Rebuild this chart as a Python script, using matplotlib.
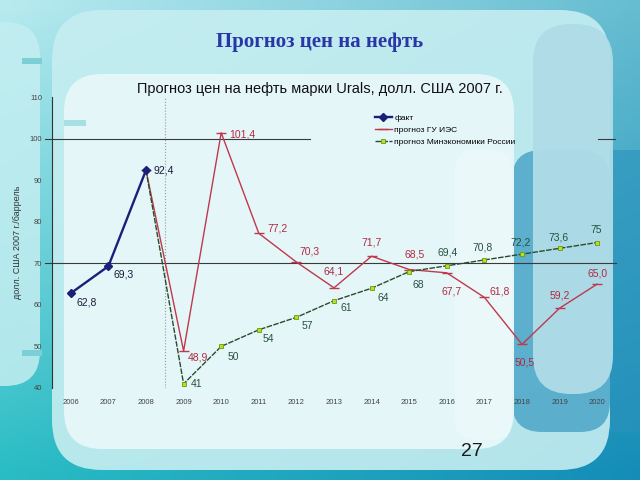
import numpy as np
import matplotlib
matplotlib.use("Agg")
import matplotlib.pyplot as plt
from matplotlib.patches import FancyBboxPatch, Rectangle

# ── data ──
years = [2006, 2007, 2008, 2009, 2010, 2011, 2012, 2013, 2014, 2015, 2016, 2017, 2018, 2019, 2020]
fact_years = [2006, 2007, 2008]
fact_vals = [62.8, 69.3, 92.4]
fc_years = [2008, 2009, 2010, 2011, 2012, 2013, 2014, 2015, 2016, 2017, 2018, 2019, 2020]
ies_vals = [92.4, 48.9, 101.4, 77.2, 70.3, 64.1, 71.7, 68.5, 67.7, 61.8, 50.5, 59.2, 65.0]
mer_vals = [92.4, 41, 50, 54, 57, 61, 64, 68, 69.4, 70.8, 72.2, 73.6, 75]
y_ticks = [40, 50, 60, 70, 80, 90, 100, 110]

# label offsets in pixels (dx, dy, ha); first forecast point is labelled by fact
fact_off = [(6, -9, "left"), (5, -8, "left"), (7, 0, "left")]
ies_off = [None, (4, -6, "left"), (8, -2, "left"), (9, 5, "left"), (3, 11, "left"),
           (0, 16, "center"), (0, 14, "center"), (5, 15, "center"), (5, -19, "center"),
           (5, 6, "left"), (3, -18, "center"), (0, 13, "center"), (0, 11, "center")]
mer_off = [None, (7, 0, "left"), (6, -11, "left"), (4, -9, "left"), (5, -9, "left"),
           (6, -7, "left"), (6, -10, "left"), (3, -13, "left"), (1, 13, "center"),
           (-2, 12, "center"), (-1, 12, "center"), (-1, 11, "center"), (-1, 13, "center")]

W, H = 640, 480
fig = plt.figure(figsize=(6.4, 4.8), dpi=100)

# ── slide background ──
bg = fig.add_axes([0, 0, 1, 1])
bg.set_xlim(0, W); bg.set_ylim(H, 0); bg.axis("off")
gx = np.linspace(0, 1, 64)[None, :, None]
gy = np.linspace(0, 1, 48)[:, None, None]
tl = np.array([0.72, 0.92, 0.94]); bl = np.array([0.16, 0.74, 0.77])
tr = np.array([0.40, 0.74, 0.82]); br = np.array([0.08, 0.55, 0.72])
grad = (1 - gx) * ((1 - gy) * tl + gy * bl) + gx * ((1 - gy) * tr + gy * br)
bg.imshow(grad, extent=[0, W, H, 0], aspect="auto", interpolation="bilinear")

def panel(x, y, w, h, r, color, alpha=1.0):
    bg.add_patch(FancyBboxPatch((x, y), w, h, boxstyle=f"round,pad=0,rounding_size={r}",
                                fc=color, ec="none", alpha=alpha))

panel(-40, 22, 80, 364, 35, "#c4eef1", 0.85)
panel(52, 10, 558, 460, 50, "#c6eef1", 0.9)
panel(512, 150, 98, 282, 30, "#4ca6c8", 0.85)
bg.add_patch(Rectangle((610, 150), 30, 282, fc="#2a92bc", ec="none", alpha=0.6))
panel(533, 24, 80, 370, 38, "#b0dce8", 0.95)
panel(64, 74, 450, 375, 38, "#e4f6f8", 1.0)
panel(455, 150, 57, 290, 20, "#eef9fa", 0.7)
bg.add_patch(Rectangle((22, 58), 20, 6, fc="#7ccfd6", ec="none"))
bg.add_patch(Rectangle((22, 350), 20, 6, fc="#7ccfd6", ec="none"))
bg.add_patch(Rectangle((64, 120), 22, 6, fc="#a6e0e4", ec="none"))

fig.text(0.5, 1 - 42 / H, "Прогноз цен на нефть", ha="center", va="center",
         fontsize=15, fontweight="bold", family="Liberation Serif", color="#2a36a8")
fig.text(472 / W, 1 - 452 / H, "27", ha="center", va="center", fontsize=14,
         family="Liberation Sans", color="#1a1a1a")
fig.text(320 / W, 1 - 89 / H, "Прогноз цен на нефть марки Urals, долл. США 2007 г.",
         ha="center", va="center", fontsize=10.5, family="Liberation Sans", color="#111111")

# ── chart ──
ax = fig.add_axes([52 / W, 1 - 388 / H, 564 / W, 291 / H])
ax.patch.set_alpha(0)
ax.set_xlim(2005.5, 2020.5)
ax.set_ylim(40, 110)
for s in ["top", "right", "bottom"]:
    ax.spines[s].set_visible(False)
ax.spines["left"].set_color("#333333")
ax.spines["left"].set_linewidth(0.8)
ax.set_xticks(years)
ax.set_xticklabels([str(y) for y in years], fontsize=5.5, color="#444444", family="Liberation Sans")
ax.set_yticks(y_ticks)
ax.set_yticklabels([str(v) for v in y_ticks], fontsize=5.5, color="#444444", family="Liberation Sans")
ax.tick_params(axis="x", length=0, pad=8)
ax.tick_params(axis="y", length=0, pad=7)
ax.set_ylabel("долл. США 2007 г./баррель", fontsize=6.5, color="#333333",
              family="Liberation Sans")
ax.yaxis.set_label_coords((22 - 52) / 564, 0.5)

ax.axhline(70, xmin=-0.012, xmax=1.0, color="#3a3a3a", lw=0.8, clip_on=False, zorder=1)
ax.axhline(100, xmin=-0.012, xmax=0.457, color="#3a3a3a", lw=0.8, clip_on=False, zorder=1)
ax.axhline(100, xmin=0.968, xmax=1.0, color="#3a3a3a", lw=0.8, zorder=1)
ax.axvline(2008.5, color="#999999", lw=0.8, ls=":", zorder=1)

ax.plot(fc_years, ies_vals, color="#c0384c", lw=1.0, marker="_", ms=7, mew=1.0,
        label="прогноз ГУ ИЭС", zorder=3)
ax.plot(fc_years, mer_vals, color="#2c4a2c", lw=1.0, ls=(0, (4, 1)), marker="s", ms=3.5,
        mfc="#b8e020", mec="#6a9a10", mew=0.6, label="прогноз Минэкономики России", zorder=3)
ax.plot(fact_years, fact_vals, color="#1a1f7a", lw=1.7, marker="D", ms=4,
        label="факт", zorder=4)

def fmt(v, always_dec):
    if not always_dec and float(v).is_integer():
        return str(int(v))
    return f"{v:.1f}".replace(".", ",")

for x, v, o in zip(fact_years, fact_vals, fact_off):
    ax.annotate(fmt(v, True), (x, v), xytext=o[:2], textcoords="offset pixels",
                ha=o[2], va="center", fontsize=7.5, color="#1a1a3a", family="Liberation Sans")
for x, v, o in zip(fc_years, ies_vals, ies_off):
    if o is None:
        continue
    ax.annotate(fmt(v, True), (x, v), xytext=o[:2], textcoords="offset pixels",
                ha=o[2], va="center", fontsize=7.5, color="#b02a40", family="Liberation Sans")
for x, v, o in zip(fc_years, mer_vals, mer_off):
    if o is None:
        continue
    ax.annotate(fmt(v, False), (x, v), xytext=o[:2], textcoords="offset pixels",
                ha=o[2], va="center", fontsize=7.5, color="#2a5040", family="Liberation Sans")

h, l = ax.get_legend_handles_labels()
order = [2, 0, 1]
ax.legend([h[i] for i in order], [l[i] for i in order], loc="upper left",
          bbox_to_anchor=((375 - 52) / 564, 1 - (114 - 97) / 291), frameon=False,
          handlelength=2.0, handletextpad=0.3, labelspacing=0.5,
          borderaxespad=0, borderpad=0, prop={"family": "Liberation Sans", "size": 6})

fig.savefig("out.png", dpi=100)
